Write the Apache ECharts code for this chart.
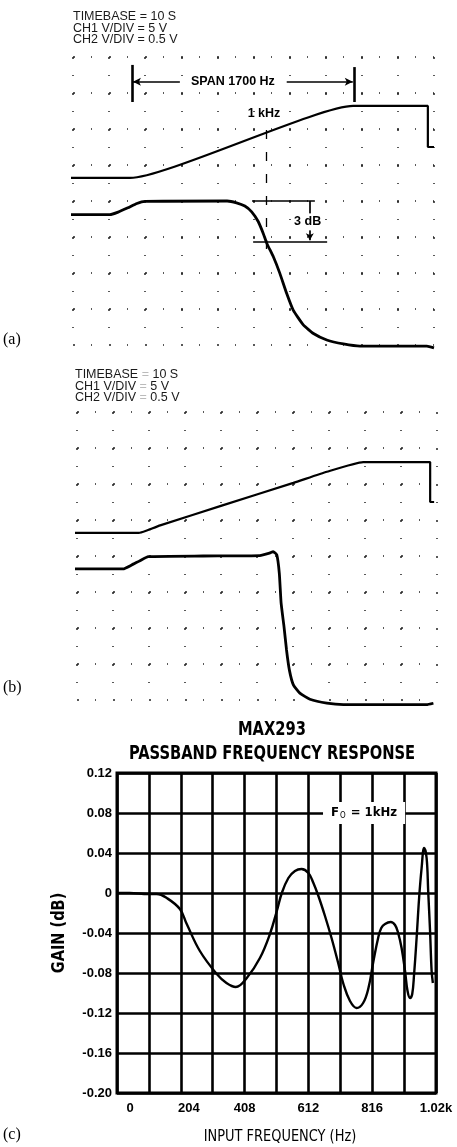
<!DOCTYPE html>
<html>
<head>
<meta charset="utf-8">
<script src="https://cdn.jsdelivr.net/npm/echarts@6/dist/echarts.min.js"></script>
<style>
  html, body { margin: 0; padding: 0; background: #fff; }
  #chart { width: 457px; height: 1147px; }
</style>
</head>
<body>
<div id="chart"></div>
<script>
// ---- Scope captures: time in seconds (10 s/div), level in screen divisions (0 = bottom graticule line)
const scopeA_ch1 = [[-1.4, 4.64], [15.8, 4.64], [77.6, 6.64], [98.3, 6.64], [98.3, 5.5], [100, 5.5]];
const scopeA_ch2 = [[-1.4, 3.62], [10.2, 3.62], [12.5, 3.69], [15.2, 3.81], [17.7, 3.93], [19.9, 3.99],
  [42.7, 4.0], [45.3, 3.95], [47.6, 3.86], [49.5, 3.70], [51.3, 3.43], [52.7, 3.10], [53.7, 2.82],
  [55.5, 2.45], [57.3, 1.99], [59.2, 1.43], [61.0, 0.97], [63.8, 0.56], [66.6, 0.32], [70.3, 0.14],
  [74.9, 0.03], [79.5, -0.03], [98.0, -0.03], [100, -0.08]];
const scopeB_ch1 = [[-1.1, 4.64], [17.2, 4.64], [19.2, 4.70], [23.1, 4.85], [40.2, 5.40], [60.1, 6.03],
  [69.4, 6.34], [79.5, 6.61], [98.1, 6.61], [98.1, 5.5], [99.2, 5.5]];
const scopeB_ch2 = [[-1.1, 3.64], [12.8, 3.64], [15.2, 3.75], [17.5, 3.87], [19.8, 3.98], [35, 4.0],
  [50.8, 4.01], [53.5, 4.08], [54.5, 4.12], [55.5, 4.03], [56.2, 3.52], [56.7, 2.69], [57.5, 2.04],
  [58.2, 1.39], [59.0, 0.83], [60.1, 0.42], [61.9, 0.19], [64.7, 0.02], [69.4, -0.09], [74.0, -0.13],
  [97.1, -0.13], [99.0, -0.09]];

// Scope annotation points for (a), same units as the traces
const spanMarkerTimes = [16.3, 77.8];
const spanLevel = 7.31;
const markerKHzTime = 53.5;
const dbTopLevel = 4.0;
const dbLowLevel = 2.86;

// ---- MAX293 passband response
const freqHz = [0, 40, 100, 127, 159, 201, 223, 265, 319, 350, 380, 415, 457, 489, 511, 527, 548, 569,
  590, 612, 628, 644, 665, 686, 708, 724, 745, 766, 787, 804, 820, 835, 845, 857, 875, 889, 899, 910,
  921, 929, 937, 944, 950, 958, 966, 974, 982, 990, 995, 1001, 1006, 1010];
const gainDb = [0, 0, -0.001, -0.001, -0.005, -0.016, -0.031, -0.058, -0.081, -0.090, -0.094, -0.085,
  -0.065, -0.041, -0.018, 0.0, 0.015, 0.022, 0.024, 0.020, 0.010, -0.003, -0.023, -0.045, -0.071,
  -0.091, -0.108, -0.115, -0.110, -0.095, -0.068, -0.045, -0.035, -0.031, -0.029, -0.032, -0.040,
  -0.055, -0.078, -0.098, -0.105, -0.101, -0.081, -0.045, -0.005, 0.025, 0.045, 0.035, 0.002,
  -0.038, -0.078, -0.090];
const xTickLabels = ['0', '204', '408', '612', '816', '1.02k'];
const yTickLabels = ['-0.20', '-0.16', '-0.12', '-0.08', '-0.04', '0', '0.04', '0.08', '0.12'];

const responsePoints = freqHz.map((f, i) => [f, gainDb[i]]);

const SANS = '"Liberation Sans", Arial, sans-serif';
const NARROW = '"Liberation Sans Narrow", "DejaVu Sans Condensed", "Liberation Sans", sans-serif';
const SERIF = '"Liberation Serif", "DejaVu Serif", serif';

// graticule: heavier dot on each division, lighter dot at each half division
const graticule = { color: '#222', width: 1.5, type: [2, 16, 1, 17] };

function scopeX(gi) {
  return {
    gridIndex: gi, type: 'value', min: 0, max: 100, interval: 10,
    axisLine: { show: false }, axisTick: { show: false }, axisLabel: { show: false },
    splitLine: { show: true, showMinLine: true, showMaxLine: true, lineStyle: graticule }
  };
}
function scopeY(gi) {
  return {
    gridIndex: gi, type: 'value', min: 0, max: 8, interval: 1,
    axisLine: { show: false }, axisTick: { show: false }, axisLabel: { show: false },
    splitLine: { show: true, showMinLine: true, showMaxLine: true, lineStyle: graticule }
  };
}
function trace(gi, data, width) {
  return {
    type: 'line', xAxisIndex: gi, yAxisIndex: gi, data: data, showSymbol: false, symbol: 'none',
    clip: false, silent: true, animation: false, smooth: 0.15,
    lineStyle: { color: '#000', width: width }
  };
}

// annotation on scope (a)
const annoLines = [
  [{ coord: [spanMarkerTimes[0], 7.78] }, { coord: [spanMarkerTimes[0], 6.75] }],
  [{ coord: [spanMarkerTimes[1], 7.72] }, { coord: [spanMarkerTimes[1], 6.75] }],
  [{ coord: [29.6, spanLevel], lineStyle: { width: 1.5 } },
   { coord: [spanMarkerTimes[0] + 0.3, spanLevel], symbol: 'arrow', symbolSize: [6, 8] }],
  [{ coord: [59.2, spanLevel], lineStyle: { width: 1.5 } },
   { coord: [spanMarkerTimes[1] - 0.3, spanLevel], symbol: 'arrow', symbolSize: [6, 8] }],
  [{ coord: [markerKHzTime, 5.97], lineStyle: { width: 1.3, type: [9, 13] } },
   { coord: [markerKHzTime, 2.31] }],
  [{ coord: [49.6, dbTopLevel], lineStyle: { width: 1.5 } }, { coord: [67.0, dbTopLevel] }],
  [{ coord: [49.9, dbLowLevel], lineStyle: { width: 1.5 } }, { coord: [70.4, dbLowLevel] }],
  [{ coord: [65.6, dbTopLevel], lineStyle: { width: 1.7 } },
   { coord: [65.6, dbLowLevel + 0.05], symbol: 'arrow', symbolSize: [6, 7] }]
];
const annoTexts = [
  { coord: [44.3, spanLevel], label: { formatter: 'SPAN 1700 Hz', fontWeight: 'bold', fontSize: 12.5,
    backgroundColor: '#fff', padding: [1, 2] } },
  { coord: [52.9, 6.44], label: { formatter: '1 kHz', fontWeight: 'bold', fontSize: 12.5 } },
  { coord: [65.0, 3.42], label: { formatter: '3 dB', fontWeight: 'bold', fontSize: 12.5,
    backgroundColor: '#fff', padding: [2, 2] } }
];

function header(x, y, lines, faint) {
  return lines.map((t, i) => ({
    type: 'text', x: x, y: y + i * 11.5, silent: true,
    style: { text: t, font: '12.5px ' + SANS, fill: '#1a1a1a', textVerticalAlign: 'middle', verticalAlign: 'middle',
      rich: faint ? { f: { fill: '#bbb', color: '#bbb', font: '12.5px ' + SANS } } : undefined }
  }));
}

const option = {
  backgroundColor: '#fff',
  animation: false,
  grid: [
    { left: 73, top: 57, width: 361, height: 288, show: false },
    { left: 77, top: 412, width: 360, height: 288, show: false },
    { left: 117, top: 773, width: 319, height: 320, show: true, borderColor: '#000', borderWidth: 3 }
  ],
  xAxis: [
    scopeX(0), scopeX(1),
    {
      gridIndex: 2, type: 'value', min: 0, max: 1020, interval: 102,
      axisLine: { show: false }, axisTick: { show: false },
      axisLabel: {
        interval: 0, margin: 9, color: '#000', fontFamily: SANS, fontWeight: 'bold', fontSize: 13,
        formatter: (v, i) => {
          if (i % 2) return '';
          const t = xTickLabels[i / 2];
          if (i === 0) return '{p0|' + t + '}';
          if (i === 2) return '{p1|' + t + '}';
          return t;
        },
        rich: {
          p0: { padding: [0, 0, 0, 26], fontFamily: SANS, fontWeight: 'bold', fontSize: 13, color: '#000' },
          p1: { padding: [0, 0, 0, 16], fontFamily: SANS, fontWeight: 'bold', fontSize: 13, color: '#000' }
        }
      },
      splitLine: { show: true, lineStyle: { color: '#000', width: 2.6 } }
    }
  ],
  yAxis: [
    scopeY(0), scopeY(1),
    {
      gridIndex: 2, type: 'value', min: -0.2, max: 0.12, interval: 0.04,
      axisLine: { show: false }, axisTick: { show: false },
      axisLabel: { margin: 5, color: '#000', fontFamily: SANS, fontWeight: 'bold', fontSize: 13,
        formatter: (v, i) => yTickLabels[i] },
      splitLine: { show: true, lineStyle: { color: '#000', width: 2.6 } }
    }
  ],
  series: [
    Object.assign(trace(0, scopeA_ch1, 2.2), {
      markLine: {
        silent: true, animation: false, symbol: ['none', 'none'], label: { show: false },
        lineStyle: { color: '#000', width: 2.6, type: 'solid' }, data: annoLines
      },
      markPoint: {
        silent: true, animation: false, symbol: 'rect', symbolSize: 0,
        label: { show: true, position: 'inside', color: '#000', fontFamily: SANS },
        data: annoTexts
      }
    }),
    trace(0, scopeA_ch2, 2.8),
    trace(1, scopeB_ch1, 2.2),
    trace(1, scopeB_ch2, 2.8),
    {
      type: 'line', xAxisIndex: 2, yAxisIndex: 2, data: responsePoints, showSymbol: false, symbol: 'none',
      smooth: 0.4, silent: true, animation: false, clip: true,
      lineStyle: { color: '#000', width: 2.4 },
      markPoint: {
        silent: true, animation: false, symbol: 'rect', symbolSize: 0,
        label: { show: true, position: 'inside', backgroundColor: '#fff', padding: [4, 8],
          formatter: '{f|F}{s|O}{f| = 1kHz}',
          rich: {
            f: { fontFamily: NARROW, fontWeight: 'bold', fontSize: 13, color: '#000' },
            s: { fontFamily: NARROW, fontSize: 8, color: '#000', verticalAlign: 'bottom', padding: [6, 1, 0, 1] }
          } },
        data: [{ coord: [790, 0.08] }]
      }
    }
  ],
  graphic: [
    ...header(73, 17, ['TIMEBASE = 10 S', 'CH1 V/DIV = 5 V', 'CH2 V/DIV = 0.5 V'], false),
    ...header(75, 375, ['TIMEBASE {f|=} 10 S', 'CH1 V/DIV {f|=} 5 V', 'CH2 V/DIV {f|=} 0.5 V'], true),
    { type: 'text', x: 3, y: 340, style: { text: '(a)', font: '16px ' + SERIF, fill: '#000', textVerticalAlign: 'middle', verticalAlign: 'middle' } },
    { type: 'text', x: 3, y: 688, style: { text: '(b)', font: '16px ' + SERIF, fill: '#000', textVerticalAlign: 'middle', verticalAlign: 'middle' } },
    { type: 'text', x: 3, y: 1135, style: { text: '(c)', font: '16px ' + SERIF, fill: '#000', textVerticalAlign: 'middle', verticalAlign: 'middle' } },
    // chart title, condensed horizontally
    { type: 'text', x: 272, y: 730, scaleX: 0.86, style: { text: 'MAX293', font: 'bold 19px ' + NARROW, fill: '#000',
      textAlign: 'center', align: 'center', textVerticalAlign: 'middle', verticalAlign: 'middle' } },
    { type: 'text', x: 272, y: 754, scaleX: 0.86, style: { text: 'PASSBAND FREQUENCY RESPONSE', font: 'bold 19px ' + NARROW, fill: '#000',
      textAlign: 'center', align: 'center', textVerticalAlign: 'middle', verticalAlign: 'middle' } },
    // axis titles
    { type: 'text', x: 280, y: 1137, scaleX: 0.9, style: { text: 'INPUT FREQUENCY (Hz)', font: '16px ' + NARROW, fill: '#000',
      textAlign: 'center', align: 'center', textVerticalAlign: 'middle', verticalAlign: 'middle' } },
    { type: 'text', x: 60, y: 933, rotation: Math.PI / 2, scaleX: 0.95, style: { text: 'GAIN (dB)', font: 'bold 17px ' + NARROW, fill: '#000',
      textAlign: 'center', align: 'center', textVerticalAlign: 'middle', verticalAlign: 'middle' } }
  ]
};

const chart = echarts.init(document.getElementById('chart'), null, { renderer: 'canvas' });
chart.setOption(option);
</script>
</body>
</html>
